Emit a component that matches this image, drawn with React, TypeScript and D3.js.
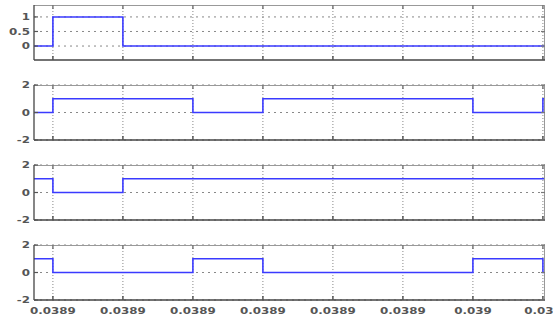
import * as d3 from "d3";
import { useEffect, useRef } from "react";

// Data
const tickValues = [0.03889, 0.0389, 0.03891, 0.03892, 0.03893, 0.03894, 0.03895, 0.03896];
const tickLabels = ["0.0389", "0.0389", "0.0389", "0.0389", "0.0389", "0.0389", "0.039", "0.039"];
const xStart = 0.0388873;
const xEnd = 0.0389603;

// step signals: value holds from each time until the next one
const sig1Times = [xStart, 0.03889, 0.0389];
const sig1Values = [0, 1, 0];
const sig2Times = [xStart, 0.03889, 0.03891, 0.03892, 0.03895, 0.03896];
const sig2Values = [0, 1, 0, 1, 0, 1];
const sig3Times = [xStart, 0.03889, 0.0389];
const sig3Values = [1, 0, 1];
const sig4Times = [xStart, 0.03889, 0.03891, 0.03892, 0.03895, 0.03896];
const sig4Values = [1, 0, 1, 0, 1, 0];

const yTicks1 = [0, 0.5, 1];
const yTicks = [-2, 0, 2];

const panels = [
  { times: sig1Times, values: sig1Values, domain: [-0.48, 1.41], ticks: yTicks1 },
  { times: sig2Times, values: sig2Values, domain: [-2, 2], ticks: yTicks },
  { times: sig3Times, values: sig3Values, domain: [-2, 2], ticks: yTicks },
  { times: sig4Times, values: sig4Values, domain: [-2, 2], ticks: yTicks },
];

const drawChart = (node: SVGSVGElement) => {
  const width = 553;
  const height = 320;
  const left = 34;
  const right = 545;
  const panelH = 55;
  const tops = [5, 85, 165, 245];

  const svg = d3.select(node);
  svg.selectAll("*").remove();

  const xScale = d3.scaleLinear().domain([xStart, xEnd]).range([left, right]);

  panels.forEach((p, i) => {
    const top = tops[i];
    const yScale = d3.scaleLinear().domain(p.domain).range([top + panelH, top]);
    const g = svg.append("g");

    g.append("rect")
      .attr("x", left).attr("y", top)
      .attr("width", right - left).attr("height", panelH)
      .attr("fill", "#fff");

    // grid
    g.selectAll(".vgrid").data(tickValues).enter().append("line")
      .attr("x1", d => xScale(d)).attr("x2", d => xScale(d))
      .attr("y1", top).attr("y2", top + panelH)
      .attr("stroke", "#888").attr("stroke-width", 1)
      .attr("stroke-dasharray", "1,2");
    g.selectAll(".hgrid").data(p.ticks).enter().append("line")
      .attr("x1", left).attr("x2", right)
      .attr("y1", d => yScale(d)).attr("y2", d => yScale(d))
      .attr("stroke", "#888").attr("stroke-width", 1)
      .attr("stroke-dasharray", "2,4");

    // signal
    const pts: [number, number][] = [];
    p.times.forEach((t, k) => {
      const tEnd = k < p.times.length - 1 ? p.times[k + 1] : xEnd;
      pts.push([t, p.values[k]]);
      pts.push([tEnd, p.values[k]]);
    });
    const line = d3.line<[number, number]>()
      .x(d => xScale(d[0]))
      .y(d => yScale(d[1]));
    g.append("path")
      .datum(pts)
      .attr("fill", "none")
      .attr("stroke", "#3a3aff")
      .attr("stroke-width", 1.6)
      .attr("d", line);

    // frame
    g.append("line").attr("x1", left).attr("x2", right).attr("y1", top + 0.5).attr("y2", top + 0.5)
      .attr("stroke", "#999").attr("stroke-width", 1);
    g.append("line").attr("x1", right - 0.5).attr("x2", right - 0.5).attr("y1", top).attr("y2", top + panelH)
      .attr("stroke", "#999").attr("stroke-width", 1);
    g.append("line").attr("x1", left).attr("x2", right).attr("y1", top + panelH).attr("y2", top + panelH)
      .attr("stroke", "#444").attr("stroke-width", 1.3);
    g.append("line").attr("x1", left).attr("x2", left).attr("y1", top).attr("y2", top + panelH)
      .attr("stroke", "#444").attr("stroke-width", 1.3);

    // tick marks
    tickValues.forEach(t => {
      g.append("line").attr("x1", xScale(t)).attr("x2", xScale(t))
        .attr("y1", top + panelH).attr("y2", top + panelH - 4)
        .attr("stroke", "#555").attr("stroke-width", 1.5);
      g.append("line").attr("x1", xScale(t)).attr("x2", xScale(t))
        .attr("y1", top).attr("y2", top + 4)
        .attr("stroke", "#777").attr("stroke-width", 1.5);
    });
    p.ticks.forEach(v => {
      g.append("line").attr("x1", left).attr("x2", left + 4)
        .attr("y1", yScale(v)).attr("y2", yScale(v))
        .attr("stroke", "#555").attr("stroke-width", 1.2);
      g.append("line").attr("x1", right - 4).attr("x2", right)
        .attr("y1", yScale(v)).attr("y2", yScale(v))
        .attr("stroke", "#777").attr("stroke-width", 1.2);
    });

    // y labels (text is stretched wide in the reference)
    g.selectAll(".ylab").data(p.ticks).enter().append("text")
      .attr("transform", d => `translate(${left - 4},${yScale(d)}) scale(1.25,1)`)
      .attr("dy", "0.36em")
      .attr("text-anchor", "end")
      .attr("font-family", "DejaVu Sans, sans-serif")
      .attr("font-weight", "bold")
      .attr("font-size", 9.5)
      .attr("fill", "#555")
      .text(d => String(d));

    // x labels on last panel
    if (i === panels.length - 1) {
      g.selectAll(".xlab").data(tickValues).enter().append("text")
        .attr("transform", d => `translate(${xScale(d)},${top + panelH + 13.5}) scale(1.25,1)`)
        .attr("text-anchor", "middle")
        .attr("font-family", "DejaVu Sans, sans-serif")
        .attr("font-weight", "bold")
        .attr("font-size", 9.5)
        .attr("fill", "#555")
        .text((d, k) => tickLabels[k]);
    }
  });

  svg.attr("width", width).attr("height", height);
};

export default function App() {
  const ref = useRef<SVGSVGElement>(null);
  useEffect(() => {
    if (ref.current) drawChart(ref.current);
  }, []);
  return (
    <svg
      ref={ref}
      width={553}
      height={320}
      style={{ position: "fixed", left: 0, top: 0, background: "#fff" }}
    />
  );
}
